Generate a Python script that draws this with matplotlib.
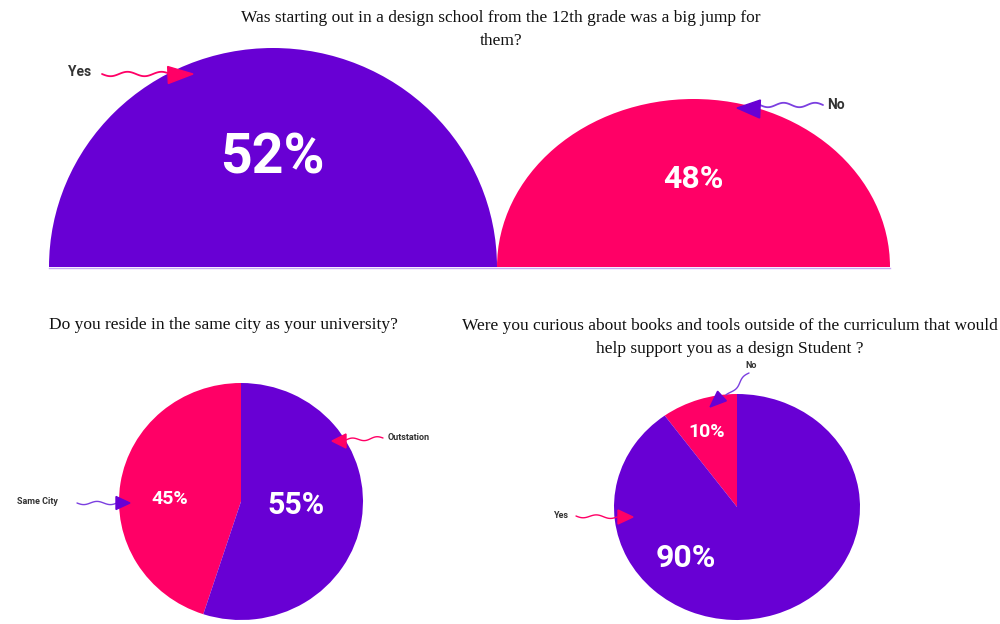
import numpy as np
import matplotlib
matplotlib.use("Agg")
import matplotlib.pyplot as plt
from matplotlib.patches import Wedge, Polygon
from matplotlib.transforms import Affine2D

# ---------------- data ----------------
q1_title = "Was starting out in a design school from the 12th grade was a big jump for\nthem?"
q1_labels = ["Yes", "No"]
q1_values = [52, 48]

q2_title = "Do you reside in the same city as your university?"
q2_labels = ["Same City", "Outstation"]
q2_values = [45, 55]

q3_title = ("Were you curious about books and tools outside of the curriculum that would\n"
            "help support you as a design Student ?")
q3_labels = ["No", "Yes"]
q3_values = [10, 90]

PURPLE = "#6800D4"
PINK = "#FF0066"
DARK = "#333333"

W, H = 1000, 624
fig = plt.figure(figsize=(W / 100, H / 100), dpi=100)
ax = fig.add_axes([0, 0, 1, 1])


def Y(y):
    return H - y


def squash(cx, cy, k):
    return Affine2D().translate(-cx, -cy).scale(1, k).translate(cx, cy) + ax.transData


def wavy(x0, y0, x1, y1, color, amp=2.2, waves=2.0, lw=1.3):
    t = np.linspace(0, 1, 120)
    dx, dy = x1 - x0, y1 - y0
    L = np.hypot(dx, dy)
    nx, ny = -dy / L, dx / L
    off = amp * np.sin(2 * np.pi * waves * t)
    xs = x0 + dx * t + nx * off
    ys = y0 + dy * t + ny * off
    ax.plot(xs, [Y(v) for v in ys], color=color, lw=lw, solid_capstyle="round", zorder=5)


def head(tipx, tipy, basex, basey, half, color):
    dx, dy = tipx - basex, tipy - basey
    L = np.hypot(dx, dy)
    nx, ny = -dy / L, dx / L
    pts = [(tipx, Y(tipy)),
           (basex + nx * half, Y(basey + ny * half)),
           (basex - nx * half, Y(basey - ny * half))]
    ax.add_patch(Polygon(pts, closed=True, color=color, zorder=6))


TITLE_KW = dict(fontsize=12.5, family="Liberation Serif", color="#111111",
                ha="center", va="center", linespacing=1.55)

# ---------------- top: two semicircles ----------------
semi = [  # cx, baseline, rx, ry, color
    (273, 267, 224, 219, PURPLE),
    (693.5, 267, 196.5, 168, PINK),
]
for (cx, by, rx, ry, col) in semi:
    w = Wedge((cx, Y(by)), rx, 0, 180, facecolor=col, edgecolor="none")
    w.set_transform(squash(cx, Y(by), ry / rx))
    ax.add_patch(w)
ax.plot([49, 890], [Y(267.5), Y(267.5)], color="#C9A8F5", lw=1.0, zorder=1)

ax.text(272, Y(159), f"{q1_values[0]}%", color="white", fontsize=40, fontweight="bold",
        family="Roboto", ha="center", va="center")
ax.text(693, Y(179), f"{q1_values[1]}%", color="white", fontsize=23, fontweight="bold",
        family="Roboto", ha="center", va="center")

ax.text(80, Y(72), q1_labels[0], color=DARK, fontsize=10, fontweight="bold",
        family="Roboto", ha="center", va="center")
wavy(102, 74, 170, 74, PINK)
head(193, 74, 168, 75, 8.5, PINK)

ax.text(836, Y(105), q1_labels[1], color=DARK, fontsize=10, fontweight="bold",
        family="Roboto", ha="center", va="center")
wavy(823, 105, 760, 105, "#7B3FE0")
head(737, 108, 760, 109, 9, PURPLE)

ax.text(501, Y(29.5), q1_title, **TITLE_KW)

# ---------------- bottom-left pie ----------------
cx2, cy2, rx2, ry2 = 241, 501.5, 122, 118.5
wedges, _ = ax.pie(q2_values, colors=[PINK, PURPLE], startangle=90, counterclock=True,
                   center=(cx2, Y(cy2)), radius=rx2, wedgeprops=dict(edgecolor="none"))
for wd in wedges:
    wd.set_transform(squash(cx2, Y(cy2), ry2 / rx2))

ax.text(170, Y(499), f"{q2_values[0]}%", color="white", fontsize=14, fontweight="bold",
        family="Roboto", ha="center", va="center")
ax.text(296, Y(505), f"{q2_values[1]}%", color="white", fontsize=22, fontweight="bold",
        family="Roboto", ha="center", va="center")

ax.text(37, Y(501), q2_labels[0], color=DARK, fontsize=6.5, fontweight="bold",
        family="Roboto", ha="center", va="center")
wavy(77, 503, 117, 503, "#7B3FE0", amp=1.6, waves=1.5, lw=1.0)
head(130, 503, 116, 503, 6.5, PURPLE)

ax.text(409, Y(437), q2_labels[1], color=DARK, fontsize=6.5, fontweight="bold",
        family="Roboto", ha="center", va="center")
wavy(383, 438, 346, 440, PINK, amp=1.6, waves=1.5, lw=1.0)
head(332, 441, 346, 441, 7, PINK)

ax.text(223, Y(325), q2_title, **TITLE_KW)

# ---------------- bottom-right pie ----------------
cx3, cy3, rx3, ry3 = 737, 507, 123, 113
wedges, _ = ax.pie(q3_values, colors=[PINK, PURPLE], startangle=90, counterclock=True,
                   center=(cx3, Y(cy3)), radius=rx3, wedgeprops=dict(edgecolor="none"))
for wd in wedges:
    wd.set_transform(squash(cx3, Y(cy3), ry3 / rx3))

ax.text(707, Y(432), f"{q3_values[0]}%", color="white", fontsize=14, fontweight="bold",
        family="Roboto", ha="center", va="center")
ax.text(686, Y(558), f"{q3_values[1]}%", color="white", fontsize=23, fontweight="bold",
        family="Roboto", ha="center", va="center")

ax.text(751, Y(366), q3_labels[0], color=DARK, fontsize=6.5, fontweight="bold",
        family="Roboto", ha="center", va="center")
wavy(749, 373, 727, 396, "#7B3FE0", amp=1.6, waves=1.2, lw=1.0)
head(710, 407, 722, 396, 6.5, PURPLE)

ax.text(561, Y(515), q3_labels[1], color=DARK, fontsize=6.5, fontweight="bold",
        family="Roboto", ha="center", va="center")
wavy(576, 516, 617, 517, PINK, amp=1.6, waves=1.5, lw=1.0)
head(633, 517, 618, 517, 7, PINK)

ax.text(730, Y(337.5), q3_title, **TITLE_KW)

ax.set_xlim(0, W)
ax.set_ylim(0, H)
ax.set_aspect("auto")
ax.axis("off")

fig.savefig("out.png", dpi=100, facecolor="white")
